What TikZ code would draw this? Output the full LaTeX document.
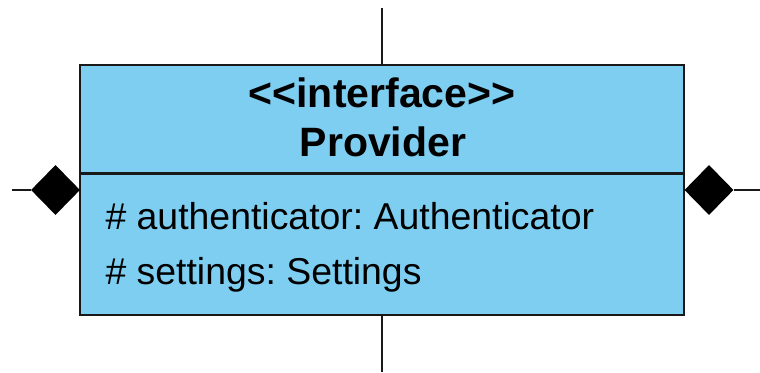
\documentclass[tikz,border=0pt]{standalone}
\usepackage{fontspec}
\setmainfont{Liberation Sans}
\usetikzlibrary{shapes.geometric}
\definecolor{classblue}{RGB}{126,206,242}
\frenchspacing
\begin{document}
\begin{tikzpicture}[x=1pt,y=1pt,
  classbox/.style={draw=black!90, fill=classblue, line width=2.8pt, inner sep=0pt,
                   minimum width=604pt, minimum height=250pt},
  agg/.style={diamond, fill=black, draw=none, inner sep=0pt,
              minimum width=49pt, minimum height=50pt},
  link/.style={line width=2.8pt, draw=black!90},
  headtext/.style={font=\bfseries\fontsize{41}{49}\selectfont, anchor=base},
  memtext/.style={font=\fontsize{37.4}{55}\selectfont, anchor=base west}]
\useasboundingbox (0,0) rectangle (760,372);

% class box
\node[classbox] (cls) at (382,182) {};
\coordinate (divL) at (cls.west |- 0,198.5);
\coordinate (divR) at (cls.east |- 0,198.5);
\draw[link] (divL) -- (divR);

% header
\node[headtext] (stereo) at (382,264) {<\kern0pt<interface>\kern0pt>};
\node[headtext] (name) at (383,215) {Provider};

% members
\node[memtext] (m1) at (102,142) {\# authenticator: Authenticator};
\node[memtext] (m2) at (102,87) {\# settings: Settings};

% vertical links
\coordinate (topEnd) at (cls.north |- 0,364);
\coordinate (botEnd) at (cls.south |- 0,0);
\draw[link] (cls.north) -- (topEnd);
\draw[link] (cls.south) -- (botEnd);

% aggregation diamonds and their links
\node[agg] (dl) at (55.5,182) {};
\node[agg] (dr) at (709,182) {};
\coordinate (leftEnd) at (12,182);
\coordinate (rightEnd) at (760,182);
\draw[link] (leftEnd) -- (dl.west);
\draw[link] (dr.east) -- (rightEnd);
\end{tikzpicture}
\end{document}
